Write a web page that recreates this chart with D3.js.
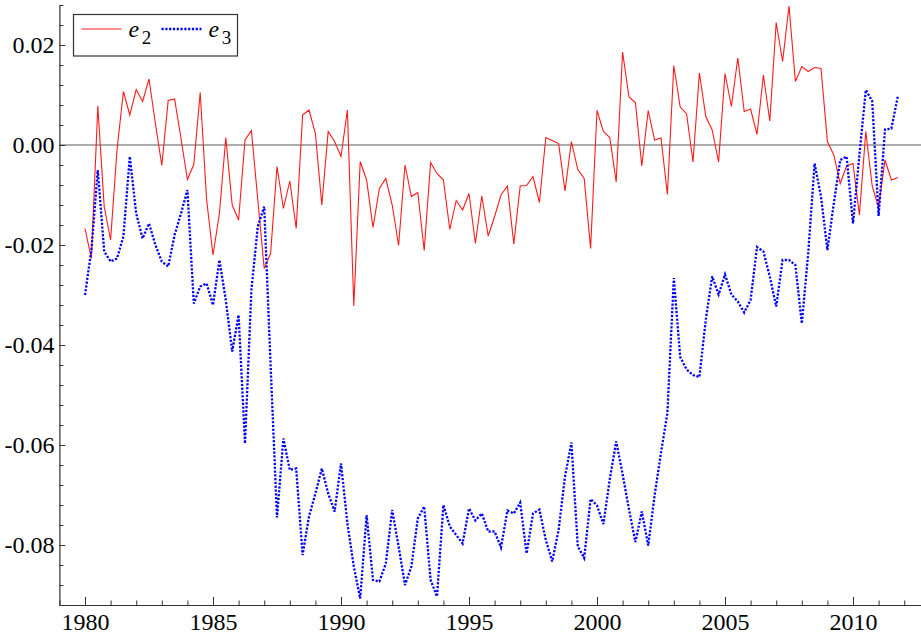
<!DOCTYPE html>
<html>
<head>
<meta charset="utf-8">
<script src="https://cdn.jsdelivr.net/npm/d3@7"></script>
<style>
  html, body { margin: 0; padding: 0; background: #fff; }
  svg { display: block; }
</style>
</head>
<body>
<svg id="chart" width="921" height="635"></svg>
<script>
// ---- Data (quarterly, starting 1980 Q1) ----
const startYear = 1980;
const e2 = [
  -0.0167, -0.0227, 0.0078, -0.0123,
  -0.0190, -0.0010, 0.0107, 0.0060,
  0.0111, 0.0087, 0.0132, 0.0043,
  -0.0041, 0.0089, 0.0092, 0.0013,
  -0.0069, -0.0039, 0.0105, -0.0109,
  -0.0220, -0.0137, 0.0015, -0.0120,
  -0.0150, 0.0010, 0.0029, -0.0110,
  -0.0247, -0.0217, -0.0043, -0.0127,
  -0.0072, -0.0167, 0.0060, 0.0070,
  0.0023, -0.0120, 0.0027, 0.0007,
  -0.0023, 0.0070, -0.0322, -0.0033,
  -0.0070, -0.0165, -0.0087, -0.0067,
  -0.0120, -0.0201, -0.0040, -0.0103,
  -0.0095, -0.0211, -0.0035, -0.0057,
  -0.0070, -0.0169, -0.0111, -0.0130,
  -0.0097, -0.0197, -0.0102, -0.0182,
  -0.0143, -0.0100, -0.0082, -0.0198,
  -0.0082, -0.0081, -0.0063, -0.0115,
  0.0015, 0.0009, 0.0003, -0.0092,
  0.0007, -0.0049, -0.0067, -0.0207,
  0.0069, 0.0027, 0.0015, -0.0074,
  0.0186, 0.0096, 0.0085, -0.0042,
  0.0069, 0.0010, 0.0014, -0.0099,
  0.0159, 0.0076, 0.0062, -0.0034,
  0.0144, 0.0057, 0.0030, -0.0034,
  0.0143, 0.0077, 0.0174, 0.0067,
  0.0072, 0.0021, 0.0140, 0.0048,
  0.0245, 0.0167, 0.0278, 0.0127,
  0.0157, 0.0147, 0.0155, 0.0153,
  0.0007, -0.0020, -0.0077, -0.0042,
  -0.0037, -0.0140, 0.0027, -0.0082,
  -0.0125, -0.0030, -0.0070, -0.0065
];
const e3 = [
  -0.0300, -0.0210, -0.0050, -0.0213,
  -0.0233, -0.0227, -0.0183, -0.0023,
  -0.0137, -0.0187, -0.0157, -0.0200,
  -0.0233, -0.0243, -0.0180, -0.0137,
  -0.0090, -0.0317, -0.0283, -0.0277,
  -0.0320, -0.0230, -0.0310, -0.0413,
  -0.0340, -0.0597, -0.0290, -0.0163,
  -0.0123, -0.0440, -0.0745, -0.0587,
  -0.0650, -0.0647, -0.0820, -0.0743,
  -0.0697, -0.0647, -0.0697, -0.0733,
  -0.0637, -0.0757, -0.0843, -0.0907,
  -0.0740, -0.0870, -0.0873, -0.0837,
  -0.0730, -0.0803, -0.0880, -0.0843,
  -0.0747, -0.0723, -0.0870, -0.0903,
  -0.0720, -0.0763, -0.0780, -0.0797,
  -0.0727, -0.0751, -0.0737, -0.0773,
  -0.0773, -0.0805, -0.0731, -0.0737,
  -0.0715, -0.0817, -0.0737, -0.0729,
  -0.0790, -0.0833, -0.0770, -0.0663,
  -0.0595, -0.0803, -0.0826, -0.0708,
  -0.0721, -0.0758, -0.0668, -0.0593,
  -0.0658, -0.0729, -0.0794, -0.0733,
  -0.0801, -0.0701, -0.0615, -0.0536,
  -0.0266, -0.0424, -0.0449, -0.0460,
  -0.0464, -0.0349, -0.0263, -0.0299,
  -0.0259, -0.0299, -0.0313, -0.0335,
  -0.0310, -0.0204, -0.0213, -0.0263,
  -0.0323, -0.0230, -0.0230, -0.0240,
  -0.0357, -0.0217, -0.0037, -0.0103,
  -0.0210, -0.0117, -0.0030, -0.0023,
  -0.0157, -0.0020, 0.0110, 0.0088,
  -0.0142, 0.0031, 0.0033, 0.0097
];
const xTickYears = [1980, 1985, 1990, 1995, 2000, 2005, 2010];
const yTickValues = [-0.08, -0.06, -0.04, -0.02, 0.00, 0.02];
const seriesNames = ["2", "3"];

// ---- Layout ----
const FONT = "'Liberation Serif', 'Times New Roman', 'DejaVu Serif', serif";
const svg = d3.select("#chart").attr("font-family", FONT);
const plotLeft = 59.4, plotRight = 923.4, plotTop = 5, plotBottom = 605;

const x = d3.scaleLinear().domain([1979, 2012.75]).range([plotLeft, plotRight]);
const y = d3.scaleLinear().domain([-0.092, 0.028]).range([plotBottom, plotTop]);

const tq = i => startYear + i * 0.25;

// zero line
svg.append("line")
  .attr("x1", plotLeft).attr("x2", 921)
  .attr("y1", y(0)).attr("y2", y(0))
  .attr("stroke", "#929292").attr("stroke-width", 1.3);

// series lines
const line = d3.line().x((d, i) => x(tq(i))).y(d => y(d));

svg.append("path").datum(e2)
  .attr("d", line)
  .attr("fill", "none")
  .attr("stroke", "#ff1a1a")
  .attr("stroke-width", 1.1)
  .attr("stroke-linejoin", "miter");

svg.append("path").datum(e3)
  .attr("d", line)
  .attr("fill", "none")
  .attr("stroke", "#0000ff")
  .attr("stroke-width", 2.3)
  .attr("stroke-dasharray", "2.2,1.6");

// ---- Axes ----
const axisColor = "#333";
const fmt = d3.format(".2f");

// Y minor ticks
const yMinor = d3.range(-0.092, 0.0281, 0.004).filter(v => !yTickValues.some(m => Math.abs(m - v) < 1e-6));
const yMinorG = svg.append("g").attr("transform", `translate(${plotLeft},0)`)
  .call(d3.axisLeft(y).tickValues(yMinor).tickSizeInner(-4).tickSizeOuter(0).tickFormat(""));
yMinorG.select(".domain").remove();
yMinorG.selectAll("line").attr("stroke", axisColor);

const yG = svg.append("g").attr("transform", `translate(${plotLeft},0)`)
  .call(d3.axisLeft(y).tickValues(yTickValues).tickSizeInner(-6).tickSizeOuter(0)
    .tickFormat(d => fmt(d).replace("\u2212", "-")));
yG.attr("font-family", FONT).attr("font-size", 24);
yG.select(".domain").attr("stroke", axisColor).attr("stroke-width", 1.2);
yG.selectAll("line").attr("stroke", axisColor);
yG.selectAll("text").attr("x", -5).attr("dy", "0.33em").attr("fill", "#000");

// X minor ticks
const xMinor = d3.range(1979, 2013).filter(v => !xTickYears.includes(v));
const xMinorG = svg.append("g").attr("transform", `translate(0,${plotBottom})`)
  .call(d3.axisBottom(x).tickValues(xMinor).tickSizeInner(-4.5).tickSizeOuter(0).tickFormat(""));
xMinorG.select(".domain").remove();
xMinorG.selectAll("line").attr("stroke", axisColor);

const xG = svg.append("g").attr("transform", `translate(0,${plotBottom})`)
  .call(d3.axisBottom(x).tickValues(xTickYears).tickSizeInner(-8).tickSizeOuter(0).tickFormat(d3.format("d")));
xG.attr("font-family", FONT).attr("font-size", 24);
xG.select(".domain").attr("stroke", axisColor).attr("stroke-width", 1.2);
xG.selectAll("line").attr("stroke", axisColor);
xG.selectAll("text").attr("y", 25).attr("dy", "0").attr("fill", "#000");

// ---- Legend ----
const lg = svg.append("g").attr("font-family", FONT);
lg.append("rect")
  .attr("x", 73.5).attr("y", 14.5).attr("width", 164).attr("height", 41.5)
  .attr("fill", "#fff").attr("stroke", "#333").attr("stroke-width", 1.2);
const legendItems = [
  { name: seriesNames[0], color: "#ff1a1a", width: 1.1, dash: null, x0: 81.5 },
  { name: seriesNames[1], color: "#0000ff", width: 2.3, dash: "2.2,1.6", x0: 161.5 }
];
legendItems.forEach(it => {
  const ln = lg.append("line")
    .attr("x1", it.x0).attr("x2", it.x0 + 40)
    .attr("y1", 29).attr("y2", 29)
    .attr("stroke", it.color).attr("stroke-width", it.width);
  if (it.dash) ln.attr("stroke-dasharray", it.dash);
  const tx = lg.append("text")
    .attr("x", it.x0 + 47).attr("y", 36.5)
    .attr("font-size", 24).attr("fill", "#000");
  tx.append("tspan").attr("font-style", "italic").text("e");
  tx.append("tspan").attr("dx", 2.5).attr("dy", 7).attr("font-size", 19).text(it.name);
});
</script>
</body>
</html>
